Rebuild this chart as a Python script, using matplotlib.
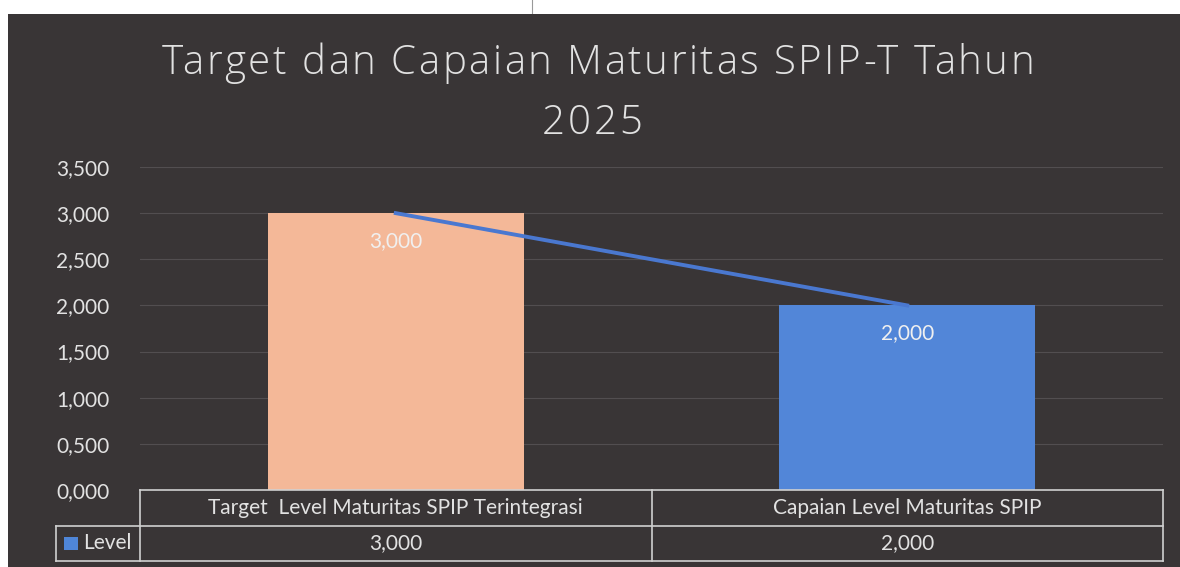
import numpy as np
import matplotlib.pyplot as plt
from matplotlib.patches import Rectangle
from matplotlib.lines import Line2D

# Data
categories = ["Target  Level Maturitas SPIP Terintegrasi", "Capaian Level Maturitas SPIP"]
values = [3.0, 2.0]
series_name = "Level"
yticks = [0.0, 0.5, 1.0, 1.5, 2.0, 2.5, 3.0, 3.5]
title_lines = ["Target dan Capaian Maturitas SPIP-T Tahun", "2025"]

bar_colors = ["#f4b898", "#5286d8"]
line_color = "#4a78d0"
bg = "#393536"
fg = "#e2e2e2"

plt.rcParams['font.family'] = ['Lato', 'DejaVu Sans']


def fmt(v):
    # Indonesian-style decimal comma
    return f"{v:.3f}".replace(".", ",")


W, H = 1180, 567
fig = plt.figure(figsize=(W / 100, H / 100), dpi=100, facecolor="white")

# dark chart background below the thin white strip at the top
fig.patches.append(Rectangle((8 / W, 0), 1 - 8 / W, (H - 14) / H,
                             transform=fig.transFigure, facecolor=bg,
                             edgecolor="none", zorder=-5))
fig.lines.append(Line2D([532 / W, 532 / W], [(H - 14) / H, 1],
                        transform=fig.transFigure, color="#999999", lw=0.8,
                        zorder=-5))

left, right, top, bottom = 140, 1163, 167, 490
ax = fig.add_axes([left / W, (H - bottom) / H, (right - left) / W, (bottom - top) / H])
ax.set_facecolor("none")

x = np.arange(len(categories))
ax.bar(x, values, width=0.5, color=bar_colors, zorder=2)
ax.plot(x, values, color=line_color, lw=2.8, zorder=3)
for xi, v in zip(x, values):
    ax.text(xi, v - 0.3, fmt(v), ha="center", va="center", color="#f0f0f0",
            fontsize=15, zorder=4)

ax.set_xlim(-0.5, len(categories) - 0.5)
ax.set_ylim(0, 3.5)
ax.set_yticks(yticks)
ax.set_yticklabels([fmt(t) for t in yticks], color=fg, fontsize=15)
ax.set_xticks([])
ax.tick_params(axis="y", length=0, pad=22)
ax.grid(axis="y", color="#524e50", lw=0.8, zorder=1)
for s in ax.spines.values():
    s.set_visible(False)

# data table under the plot
row_h = 35.5 / (bottom - top)
lab_left = (56 - left) / (right - left)
tr = ax.transAxes
lk = dict(transform=tr, color="#d0d0d0", lw=1.2, clip_on=False)
# horizontal lines
ax.plot([0, 1], [0, 0], **lk)
ax.plot([lab_left, 1], [-row_h, -row_h], **lk)
ax.plot([lab_left, 1], [-2 * row_h, -2 * row_h], **lk)
# vertical lines
ax.plot([lab_left, lab_left], [-row_h, -2 * row_h], **lk)
for i in range(len(categories) + 1):
    xf = i / len(categories)
    ax.plot([xf, xf], [0, -2 * row_h], **lk)

for i, (c, v) in enumerate(zip(categories, values)):
    xc = (i + 0.5) / len(categories)
    ax.text(xc, -0.5 * row_h, c, transform=tr, ha="center", va="center",
            color=fg, fontsize=15)
    ax.text(xc, -1.5 * row_h, fmt(v), transform=tr, ha="center", va="center",
            color=fg, fontsize=15)

# legend key + series name
kx = (64 - left) / (right - left)
kw = 14 / (right - left)
kh = 13 / (bottom - top)
ax.add_patch(Rectangle((kx, -1.5 * row_h - kh / 2), kw, kh,
                       transform=tr, facecolor="#4f86d8", edgecolor="none",
                       clip_on=False))
ax.text((83 - left) / (right - left), -1.5 * row_h, series_name, transform=tr,
        ha="left", va="center", color=fg, fontsize=15)

# title: letter-spaced like the Excel chart title
renderer = fig.canvas.get_renderer()
title_kw = dict(color=fg, fontsize=29, family="Open Sans", fontweight="light",
                va="baseline", ha="left")
tracking = 2.5  # extra px between letters


def ink_width(s):
    t = fig.text(0, 0, s, **title_kw)
    w = t.get_window_extent(renderer).width
    t.remove()
    return w


def spaced_text(s, xc, y_base):
    # left edge of each glyph as in natural layout, plus tracking
    lefts = []
    for i, ch in enumerate(s):
        if ch == " ":
            lefts.append(None)
            continue
        lefts.append(ink_width(s[:i + 1]) - ink_width(ch) + tracking * i)
    total = ink_width(s) + tracking * (len(s) - 1)
    x0 = xc - total / 2
    for ch, lx in zip(s, lefts):
        if lx is not None:
            fig.text((x0 + lx) / W, 1 - y_base / H, ch, **title_kw)


spaced_text(title_lines[0], 598, 74)
spaced_text(title_lines[1], 592, 134)

fig.savefig("out.png", dpi=100, facecolor=fig.get_facecolor())
